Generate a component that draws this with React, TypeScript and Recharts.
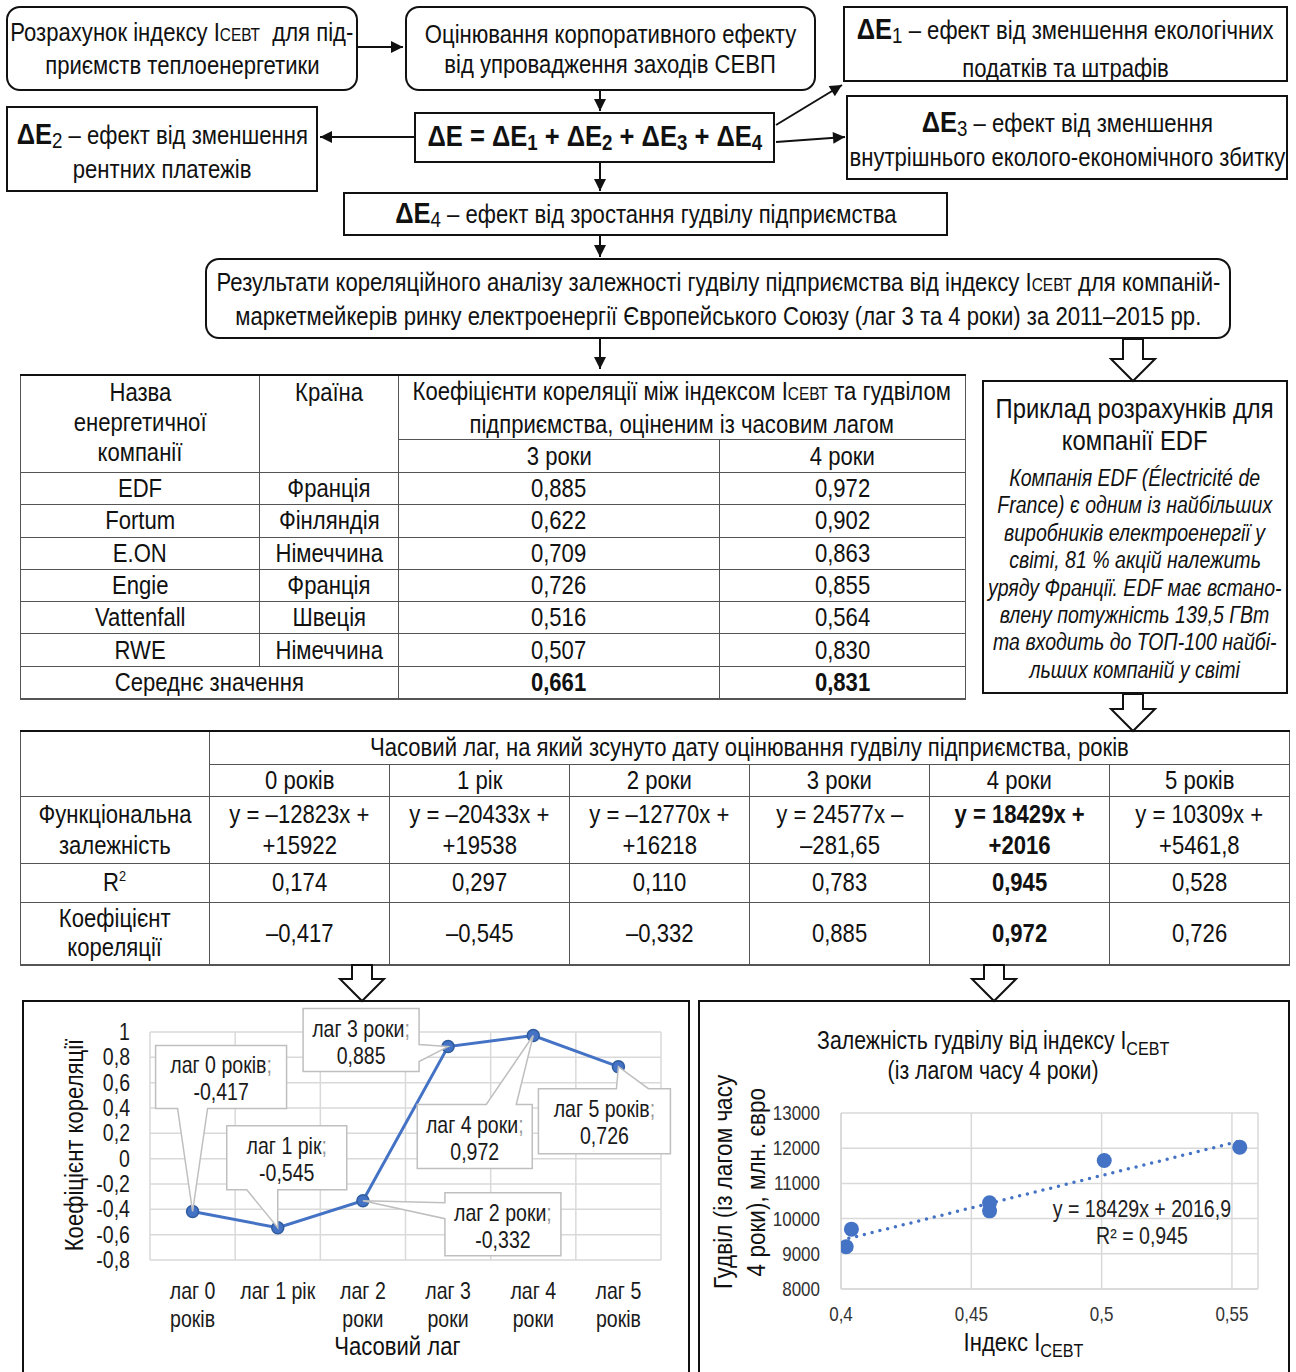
import React from "react";
import {
  LineChart,
  Line,
  XAxis,
  YAxis,
  CartesianGrid,
  ReferenceLine,
  LabelList,
  ScatterChart,
  Scatter,
} from "recharts";

const FONT = "'Liberation Sans', Arimo, Arial, sans-serif";
const SX = 0.85; // Arial Narrow look: Liberation Sans squeezed horizontally
const BLUE = "#4472C4";
const GRID = "#d9d9d9";

// table 1: correlation with lag 3 / 4 years
const companies = ["EDF", "Fortum", "E.ON", "Engie", "Vattenfall", "RWE"];
const countries = ["Франція", "Фінляндія", "Німеччина", "Франція", "Швеція", "Німеччина"];
const corrLag3 = ["0,885", "0,622", "0,709", "0,726", "0,516", "0,507"];
const corrLag4 = ["0,972", "0,902", "0,863", "0,855", "0,564", "0,830"];
const corrMean = ["0,661", "0,831"];

// table 2: regression by lag
const lagHeaders = ["0 років", "1 рік", "2 роки", "3 роки", "4 роки", "5 років"];
const equationsTop = ["y = –12823x +", "y = –20433x +", "y = –12770x +", "y = 24577x –", "y = 18429x +", "y = 10309x +"];
const equationsBottom = ["+15922", "+19538", "+16218", "–281,65", "+2016", "+5461,8"];
const rSquared = ["0,174", "0,297", "0,110", "0,783", "0,945", "0,528"];
const corrByLag = ["–0,417", "–0,545", "–0,332", "0,885", "0,972", "0,726"];
const boldLag = 4;

// left chart
const lagCategories = ["лаг 0 років", "лаг 1 рік", "лаг 2 роки", "лаг 3 роки", "лаг 4 роки", "лаг 5 років"];
const lagTickLines = [["лаг 0", "років"], ["лаг 1 рік"], ["лаг 2", "роки"], ["лаг 3", "роки"], ["лаг 4", "роки"], ["лаг 5", "років"]];
const lagCorrelation = [-0.417, -0.545, -0.332, 0.885, 0.972, 0.726];
const corrTicks = [-0.8, -0.6, -0.4, -0.2, 0, 0.2, 0.4, 0.6, 0.8, 1];

// right chart (EDF, lag 4 years)
const indexValues = [0.402, 0.404, 0.457, 0.457, 0.501, 0.553];
const goodwillValues = [9200, 9700, 10450, 10220, 11650, 12030];
const trendIndex = [0.403, 0.553];
const trendGoodwill = [9440, 12200];
const indexTicks = [0.4, 0.45, 0.5, 0.55];
const goodwillTicks = [8000, 9000, 10000, 11000, 12000, 13000];

const lineData = lagCategories.map((name, i) => ({ idx: i, name, corr: lagCorrelation[i] }));
const scatterData = indexValues.map((x, i) => ({ x, y: goodwillValues[i] }));
const trendData = trendIndex.map((x, i) => ({ x, y: trendGoodwill[i] }));

// callout boxes placement relative to each point (from the picture)
const callouts = [
  { dx: -37, dy: -166, w: 131, h: 63, side: "bottom", a: -15, b: 15 },
  { dx: -51, dy: -102, w: 120, h: 64, side: "bottom", a: -31, b: 0 },
  { dx: 82, dy: -8, w: 116, h: 63, side: "left", a: 2, b: 18 },
  { dx: -145, dy: -38, w: 116, h: 63, side: "right", a: -2, b: 15 },
  { dx: -116, dy: 69, w: 115, h: 64, side: "top", a: -47, b: -17 },
  { dx: -80, dy: 22, w: 132, h: 65, side: "top", a: -2, b: 30 },
];

const comma = (v: number) => String(v).replace(".", ",");

function calloutPath(px: number, py: number, c: any) {
  const L = px + c.dx, T = py + c.dy, R = L + c.w, B = T + c.h;
  const p: string[] = [`M${L},${T}`];
  if (c.side === "top") p.push(`L${px + c.a},${T}`, `L${px},${py}`, `L${px + c.b},${T}`);
  p.push(`L${R},${T}`);
  if (c.side === "right") p.push(`L${R},${py + c.a}`, `L${px},${py}`, `L${R},${py + c.b}`);
  p.push(`L${R},${B}`);
  if (c.side === "bottom") p.push(`L${px + c.b},${B}`, `L${px},${py}`, `L${px + c.a},${B}`);
  p.push(`L${L},${B}`);
  if (c.side === "left") p.push(`L${L},${py + c.b}`, `L${px},${py}`, `L${L},${py + c.a}`);
  p.push("Z");
  return p.join(" ");
}

// narrow svg text
function ST({ x, y, anchor = "middle", size = 23, fill = "#1a1a1a", children }: any) {
  return (
    <text transform={`translate(${x} ${y}) scale(${SX} 1)`} x={0} y={0} textAnchor={anchor} fontSize={size} fill={fill} fontFamily={FONT}>
      {children}
    </text>
  );
}

function Callout(props: any) {
  const { x, y, value, index } = props;
  const c = callouts[index];
  if (!c) return null;
  const L = x + c.dx, T = y + c.dy;
  const cx = L + c.w / 2;
  return (
    <g>
      <path d={calloutPath(x, y, c)} fill="#fff" stroke="#bfbfbf" strokeWidth={1.5} />
      <ST x={cx} y={T + 28}>
        {lagCategories[index]}
        <tspan fill="#999">;</tspan>
      </ST>
      <ST x={cx} y={T + 55}>{comma(value)}</ST>
    </g>
  );
}

function LagTick(props: any) {
  const { x, y, payload } = props;
  const lines = lagTickLines[payload.value] || [];
  return (
    <g>
      {lines.map((l, i) => (
        <ST key={i} x={x} y={y + 37 + i * 28}>
          {l}
        </ST>
      ))}
    </g>
  );
}

function CorrTick(props: any) {
  const { x, y, payload } = props;
  return (
    <ST x={x} y={y + 8} anchor="end">
      {comma(payload.value)}
    </ST>
  );
}

function makeTick(size: number, anchor: string, dy: number, fmt: (v: number) => string) {
  return (props: any) => (
    <ST x={props.x} y={props.y + dy} anchor={anchor} size={size} fill="#333">
      {fmt(props.payload.value)}
    </ST>
  );
}
const IndexTick = makeTick(20, "middle", 8, comma);
const GoodwillTick = makeTick(20, "end", 7, (v) => String(v));

function DE({ n, bold, size = 30, sub = 22 }: { n?: string; bold?: boolean; size?: number; sub?: number }) {
  return (
    <span>
      <b style={{ fontSize: size }}>ΔE</b>
      {n && <span style={{ fontSize: sub, fontWeight: bold ? 700 : 400, position: "relative", top: 4 }}>{n}</span>}
    </span>
  );
}

const I = () => (
  <span>
    I<span style={{ fontSize: "0.7em" }}>СЕВТ</span>
  </span>
);

// one centred line of narrow text
function T({ children, style = {} }: any) {
  return (
    <div style={{ textAlign: "center", whiteSpace: "nowrap", ...style }}>
      <span className="n">{children}</span>
    </div>
  );
}

function Box({ l, t, w, h, r = 0, children, style = {} }: any) {
  return (
    <div
      style={{
        position: "absolute",
        left: l,
        top: t,
        width: w,
        height: h,
        border: "2px solid #111",
        borderRadius: r,
        boxSizing: "border-box",
        display: "flex",
        flexDirection: "column",
        justifyContent: "center",
        background: "#fff",
        ...style,
      }}
    >
      {children}
    </div>
  );
}

function HollowArrow({ x, y1, y2 }: { x: number; y1: number; y2: number }) {
  const hy = y2 - 22;
  const d = `M${x - 10},${y1} L${x + 10},${y1} L${x + 10},${hy} L${x + 22},${hy} L${x},${y2} L${x - 22},${hy} L${x - 10},${hy} Z`;
  return <path d={d} fill="#fff" stroke="#111" strokeWidth={2} />;
}

const arrows = [
  [358, 47, 403, 47],
  [600, 91, 600, 111],
  [414, 137, 320, 137],
  [776, 125, 842, 85],
  [776, 142, 845, 137],
  [600, 163, 600, 191],
  [600, 236, 600, 257],
  [600, 339, 600, 369],
];

const cell: React.CSSProperties = {
  border: "1px solid #555",
  padding: 0,
  textAlign: "center",
  verticalAlign: "middle",
  overflow: "visible",
};

export default function App() {
  return (
    <div style={{ position: "relative", width: 1296, height: 1372, background: "#fff", fontFamily: FONT, color: "#111", overflow: "hidden" }}>
      <style>{`body{margin:0} .n{display:inline-block;white-space:nowrap;transform:scaleX(${SX});margin:0 -400px}`}</style>

      <Box l={6} t={6} w={352} h={85} r={14} style={{ fontSize: 26, lineHeight: "30px" }}>
        <T>
          Розрахунок індексу <I /> &nbsp;для під-
        </T>
        <T>приємств теплоенергетики</T>
      </Box>
      <Box l={405} t={6} w={411} h={85} r={14} style={{ fontSize: 26, lineHeight: "30px" }}>
        <T>Оцінювання корпоративного ефекту</T>
        <T>від упровадження заходів СЕВП</T>
      </Box>
      <Box l={843} t={6} w={445} h={76} style={{ fontSize: 26, lineHeight: "36px", justifyContent: "flex-start", paddingTop: 3 }}>
        <T>
          <DE n="1" /> – ефект від зменшення екологічних
        </T>
        <T>податків та штрафів</T>
      </Box>
      <Box l={414} t={112} w={361} h={51} style={{ fontSize: 30, fontWeight: 700, lineHeight: "36px" }}>
        <T>
          <DE bold size={30} /> = <DE n="1" bold size={30} /> + <DE n="2" bold size={30} /> + <DE n="3" bold size={30} /> + <DE n="4" bold size={30} />
        </T>
      </Box>
      <Box l={6} t={106} w={312} h={86} style={{ fontSize: 26, lineHeight: "32px", paddingTop: 4 }}>
        <T>
          <DE n="2" /> – ефект від зменшення
        </T>
        <T>рентних платежів</T>
      </Box>
      <Box l={846} t={95} w={442} h={85} style={{ fontSize: 26, lineHeight: "32px", paddingTop: 3 }}>
        <T>
          <DE n="3" /> – ефект від зменшення
        </T>
        <T>внутрішнього еколого-економічного збитку</T>
      </Box>
      <Box l={343} t={192} w={605} h={44} style={{ fontSize: 26, lineHeight: "34px" }}>
        <T>
          <DE n="4" /> – ефект від зростання гудвілу підприємства
        </T>
      </Box>
      <Box l={205} t={258} w={1026} h={81} r={14} style={{ fontSize: 26, lineHeight: "31px", paddingTop: 2 }}>
        <T>
          Результати кореляційного аналізу залежності гудвілу підприємства від індексу <I /> для компаній-
        </T>
        <T>маркетмейкерів ринку електроенергії Європейського Союзу (лаг 3 та 4 роки) за 2011–2015 рр.</T>
      </Box>

      <table
        style={{ position: "absolute", left: 20, top: 374, width: 945, borderCollapse: "collapse", tableLayout: "fixed", fontSize: 26, lineHeight: "29px", borderTop: "2px solid #111", borderBottom: "2px solid #555" }}
      >
        <colgroup>
          <col style={{ width: 239 }} />
          <col style={{ width: 139 }} />
          <col style={{ width: 321 }} />
          <col style={{ width: 246 }} />
        </colgroup>
        <tbody>
          <tr style={{ height: 62 }}>
            <td rowSpan={2} style={{ ...cell, verticalAlign: "top", lineHeight: "30px", paddingTop: 1 }}>
              <T>Назва</T>
              <T>енергетичної</T>
              <T>компанії</T>
            </td>
            <td rowSpan={2} style={{ ...cell, verticalAlign: "top", lineHeight: "30px", paddingTop: 1 }}>
              <T>Країна</T>
            </td>
            <td colSpan={2} style={{ ...cell, lineHeight: "30px" }}>
              <T>
                Коефіцієнти кореляції між індексом <I /> та гудвілом
              </T>
              <T>підприємства, оціненим із часовим лагом</T>
            </td>
          </tr>
          <tr style={{ height: 33 }}>
            <td style={cell}>
              <T>3 роки</T>
            </td>
            <td style={cell}>
              <T>4 роки</T>
            </td>
          </tr>
          {companies.map((c, i) => (
            <tr key={c} style={{ height: 32.3 }}>
              <td style={cell}>
                <T>{c}</T>
              </td>
              <td style={cell}>
                <T>{countries[i]}</T>
              </td>
              <td style={cell}>
                <T>{corrLag3[i]}</T>
              </td>
              <td style={cell}>
                <T>{corrLag4[i]}</T>
              </td>
            </tr>
          ))}
          <tr style={{ height: 32.3 }}>
            <td colSpan={2} style={cell}>
              <T>Середнє значення</T>
            </td>
            <td style={{ ...cell, fontWeight: 700 }}>
              <T>{corrMean[0]}</T>
            </td>
            <td style={{ ...cell, fontWeight: 700 }}>
              <T>{corrMean[1]}</T>
            </td>
          </tr>
        </tbody>
      </table>

      <Box l={982} t={380} w={306} h={314} style={{ justifyContent: "flex-start", paddingTop: 11 }}>
        <div style={{ fontSize: 28, lineHeight: "32px" }}>
          <T>Приклад розрахунків для</T>
          <T>компанії EDF</T>
        </div>
        <div style={{ fontSize: 23, lineHeight: "27.4px", fontStyle: "italic", marginTop: 8 }}>
          <T>Компанія EDF (Électricité de</T>
          <T>France) є одним із найбільших</T>
          <T>виробників електроенергії у</T>
          <T>світі, 81 % акцій належить</T>
          <T>уряду Франції. EDF має встано-</T>
          <T>влену потужність 139,5 ГВт</T>
          <T>та входить до ТОП-100 найбі-</T>
          <T>льших компаній у світі</T>
        </div>
      </Box>

      <table
        style={{ position: "absolute", left: 20, top: 730, width: 1269, borderCollapse: "collapse", tableLayout: "fixed", fontSize: 26, lineHeight: "29px", borderTop: "2px solid #111", borderBottom: "2px solid #555" }}
      >
        <colgroup>
          <col style={{ width: 189 }} />
          {lagHeaders.map((h) => (
            <col key={h} style={{ width: 180 }} />
          ))}
        </colgroup>
        <tbody>
          <tr style={{ height: 33 }}>
            <td rowSpan={2} style={cell}></td>
            <td colSpan={6} style={cell}>
              <T>Часовий лаг, на який зсунуто дату оцінювання гудвілу підприємства, років</T>
            </td>
          </tr>
          <tr style={{ height: 32 }}>
            {lagHeaders.map((h) => (
              <td key={h} style={cell}>
                <T>{h}</T>
              </td>
            ))}
          </tr>
          <tr style={{ height: 67 }}>
            <td style={{ ...cell, lineHeight: "31px" }}>
              <T>Функціональна</T>
              <T>залежність</T>
            </td>
            {equationsTop.map((e, i) => (
              <td key={i} style={{ ...cell, lineHeight: "31px", fontWeight: i === boldLag ? 700 : 400 }}>
                <T>{e}</T>
                <T>{equationsBottom[i]}</T>
              </td>
            ))}
          </tr>
          <tr style={{ height: 39 }}>
            <td style={cell}>
              <T>
                R<sup style={{ fontSize: 15, lineHeight: 0 }}>2</sup>
              </T>
            </td>
            {rSquared.map((v, i) => (
              <td key={i} style={{ ...cell, fontWeight: i === boldLag ? 700 : 400 }}>
                <T>{v}</T>
              </td>
            ))}
          </tr>
          <tr style={{ height: 63 }}>
            <td style={{ ...cell, lineHeight: "29px" }}>
              <T>Коефіцієнт</T>
              <T>кореляції</T>
            </td>
            {corrByLag.map((v, i) => (
              <td key={i} style={{ ...cell, fontWeight: i === boldLag ? 700 : 400 }}>
                <T>{v}</T>
              </td>
            ))}
          </tr>
        </tbody>
      </table>

      {/* chart frames */}
      <div style={{ position: "absolute", left: 22, top: 1000, width: 668, height: 390, border: "2px solid #111", boxSizing: "border-box" }} />
      <div style={{ position: "absolute", left: 698, top: 1000, width: 592, height: 390, border: "2px solid #111", boxSizing: "border-box" }} />

      <svg width={1296} height={1372} style={{ position: "absolute", left: 0, top: 0, pointerEvents: "none" }}>
        <defs>
          <marker id="ah2" viewBox="0 0 10 10" refX="10" refY="5" markerWidth="14" markerHeight="12" orient="auto" markerUnits="userSpaceOnUse">
            <path d="M0,0 L10,5 L0,10 Z" fill="#111" />
          </marker>
        </defs>
        {arrows.map(([x1, y1, x2, y2], i) => (
          <line key={i} x1={x1} y1={y1} x2={x2} y2={y2} stroke="#111" strokeWidth={2} markerEnd="url(#ah2)" />
        ))}
        <HollowArrow x={1133} y1={339} y2={381} />
        <HollowArrow x={1133} y1={694} y2={731} />
        <HollowArrow x={362} y1={965} y2={1001} />
        <HollowArrow x={994} y1={965} y2={1001} />
      </svg>

      {/* left chart */}
      <div style={{ position: "absolute", left: 22, top: 1000 }}>
        <LineChart width={668} height={372} data={lineData} margin={{ top: 32, right: 29, bottom: 52, left: 78 }}>
          <CartesianGrid vertical={false} stroke={GRID} strokeWidth={1.5} />
          {lagCategories.concat([""]).map((_, i) => (
            <ReferenceLine key={i} x={i - 0.5} stroke={GRID} strokeWidth={1.5} />
          ))}
          <XAxis
            dataKey="idx"
            type="number"
            domain={[-0.5, lagCategories.length - 0.5]}
            ticks={lagCategories.map((_, i) => i)}
            tick={<LagTick />}
            tickLine={false}
            axisLine={false}
            tickSize={0}
            height={60}
            interval={0}
          />
          <YAxis
            type="number"
            domain={[-0.8, 1]}
            ticks={corrTicks}
            tick={<CorrTick />}
            tickLine={false}
            axisLine={false}
            tickSize={0}
            tickMargin={20}
            width={50}
            interval={0}
          />
          <Line
            dataKey="corr"
            stroke={BLUE}
            strokeWidth={3}
            dot={{ r: 6, fill: BLUE, stroke: "#2f5c9e", strokeWidth: 1.5 }}
            isAnimationActive={false}
          >
            <LabelList dataKey="corr" content={<Callout />} />
          </Line>
        </LineChart>
      </div>
      <div style={{ position: "absolute", left: 74, top: 1145, transform: "translate(-50%,-50%) rotate(-90deg)", fontSize: 26, whiteSpace: "nowrap" }}>
        <T>Коефіцієнт кореляції</T>
      </div>
      <div style={{ position: "absolute", left: 397, top: 1346, transform: "translate(-50%,-50%)", fontSize: 26, whiteSpace: "nowrap" }}>
        <T>Часовий лаг</T>
      </div>

      {/* right chart */}
      <div style={{ position: "absolute", left: 698, top: 1000 }}>
        <ScatterChart width={592} height={372} margin={{ top: 113, right: 32, bottom: 43, left: 83 }}>
          <CartesianGrid stroke={GRID} strokeWidth={1.5} />
          <XAxis
            dataKey="x"
            type="number"
            domain={[0.4, 0.56]}
            ticks={indexTicks}
            tick={<IndexTick />}
            tickLine={false}
            axisLine={{ stroke: GRID, strokeWidth: 1.5 }}
            tickSize={0}
            tickMargin={24}
            height={40}
            interval={0}
            allowDataOverflow
          />
          <YAxis
            dataKey="y"
            type="number"
            domain={[8000, 13000]}
            ticks={goodwillTicks}
            tick={<GoodwillTick />}
            tickLine={false}
            axisLine={{ stroke: GRID, strokeWidth: 1.5 }}
            tickSize={0}
            tickMargin={21}
            width={60}
            interval={0}
          />
          <Scatter
            data={trendData}
            line={{ stroke: BLUE, strokeWidth: 3.5, strokeDasharray: "0 8", strokeLinecap: "round" }}
            shape={() => <g />}
            isAnimationActive={false}
          />
          <Scatter data={scatterData} fill={BLUE} shape={(p: any) => <circle cx={p.cx} cy={p.cy} r={7.5} fill={BLUE} />} isAnimationActive={false} />
        </ScatterChart>
      </div>
      <div style={{ position: "absolute", left: 993, top: 1025, width: 0, fontSize: 25, lineHeight: "30px" }}>
        <T>
          Залежність гудвілу від індексу I<sub style={{ fontSize: 19, lineHeight: 0 }}>CEBT</sub>
        </T>
        <T>(із лагом часу 4 роки)</T>
      </div>
      <div style={{ position: "absolute", left: 740, top: 1182, transform: "translate(-50%,-50%) rotate(-90deg)", fontSize: 26.5, lineHeight: "33px", whiteSpace: "nowrap" }}>
        <T>Гудвіл (із лагом часу</T>
        <T>4 роки), млн. євро</T>
      </div>
      <div style={{ position: "absolute", left: 1142, top: 1196, width: 0, fontSize: 23, lineHeight: "27px", color: "#222" }}>
        <T>y = 18429x + 2016,9</T>
        <T>R² = 0,945</T>
      </div>
      <div style={{ position: "absolute", left: 1024, top: 1327, width: 0, fontSize: 26, lineHeight: "30px" }}>
        <T>
          Індекс I<sub style={{ fontSize: 19, lineHeight: 0 }}>CEBT</sub>
        </T>
      </div>
    </div>
  );
}
